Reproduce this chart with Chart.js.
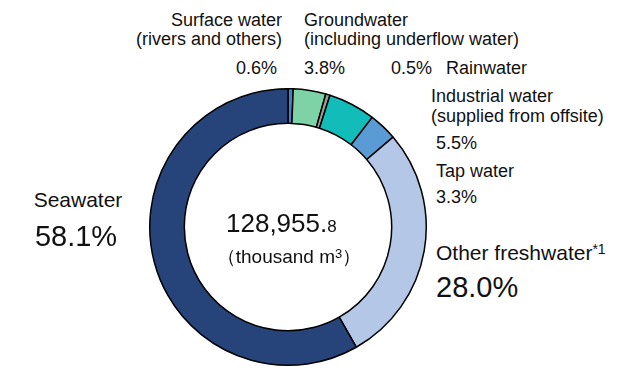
<!DOCTYPE html>
<html>
<head>
<meta charset="utf-8">
<script src="https://cdn.jsdelivr.net/npm/chart.js@4"></script>
<style>
  html, body { margin: 0; padding: 0; background: #fff; }
  #wrap { position: relative; width: 627px; height: 368px; overflow: hidden; font-family: "Liberation Sans", Arial, sans-serif; color: #111; }
  #chartBox { position: absolute; left: 148px; top: 87px; width: 280px; height: 280px; }
  .t { position: absolute; white-space: nowrap; line-height: 1; }
  .s18 { font-size: 18px; }
  .s21 { font-size: 21px; }
  .s29 { font-size: 29px; }
  .c { text-align: center; }
</style>
</head>
<body>
<div id="wrap">
  <div id="chartBox"><canvas id="c"></canvas></div>

  <div class="t s18" style="right:345px; top:11px;">Surface water</div>
  <div class="t s18" style="right:345px; top:30px;">(rivers and others)</div>
  <div class="t s18" style="right:350px; top:59px;">0.6%</div>

  <div class="t s18" style="left:304px; top:11px;">Groundwater</div>
  <div class="t s18" style="left:304px; top:30px;">(including underflow water)</div>
  <div class="t s18" style="left:304px; top:59px;">3.8%</div>

  <div class="t s18" style="left:391px; top:59px;">0.5%</div>
  <div class="t s18" style="left:446px; top:59px;">Rainwater</div>

  <div class="t s18" style="left:431px; top:87px;">Industrial water</div>
  <div class="t s18" style="left:431px; top:107px;">(supplied from offsite)</div>
  <div class="t s18" style="left:436px; top:134px;">5.5%</div>
  <div class="t s18" style="left:436px; top:162px;">Tap water</div>
  <div class="t s18" style="left:436px; top:188px;">3.3%</div>

  <div class="t s21" style="left:436px; top:242px;">Other freshwater<sup style="font-size:14px; vertical-align:6px;">*1</sup></div>
  <div class="t s29" style="left:436px; top:273px;">28.0%</div>

  <div class="t s21 c" style="left:18px; width:120px; top:189px;">Seawater</div>
  <div class="t s29 c" style="left:6px; width:140px; top:222px;">58.1%</div>

  <div class="t" style="left:226px; top:210px; font-size:26px;">128,955.<span style="font-size:17px;">8</span></div>
  <div class="t c" style="left:189px; width:200px; top:247px; font-size:19px;">（thousand m<sup style="font-size:13px; vertical-align:5px;">3</sup>）</div>
</div>
<script>
const categories = ["Surface water", "Groundwater", "Rainwater", "Industrial water", "Tap water", "Other freshwater", "Seawater"];
const shares = [0.6, 3.8, 0.5, 5.5, 3.3, 28.0, 58.1];
const colors = ["#4a7cc9", "#7dd3a5", "#9a9a9a", "#12bdb9", "#5b9bd5", "#b4c7e7", "#27447a"];

new Chart(document.getElementById("c"), {
  type: "doughnut",
  data: {
    labels: categories,
    datasets: [{
      data: shares,
      backgroundColor: colors,
      borderColor: "#000",
      borderWidth: 1.5,
      borderAlign: "center"
    }]
  },
  options: {
    responsive: true,
    maintainAspectRatio: false,
    animation: false,
    cutout: "75%",
    rotation: 0,
    layout: { padding: 1 },
    plugins: { legend: { display: false }, tooltip: { enabled: false } }
  }
});
</script>
</body>
</html>
